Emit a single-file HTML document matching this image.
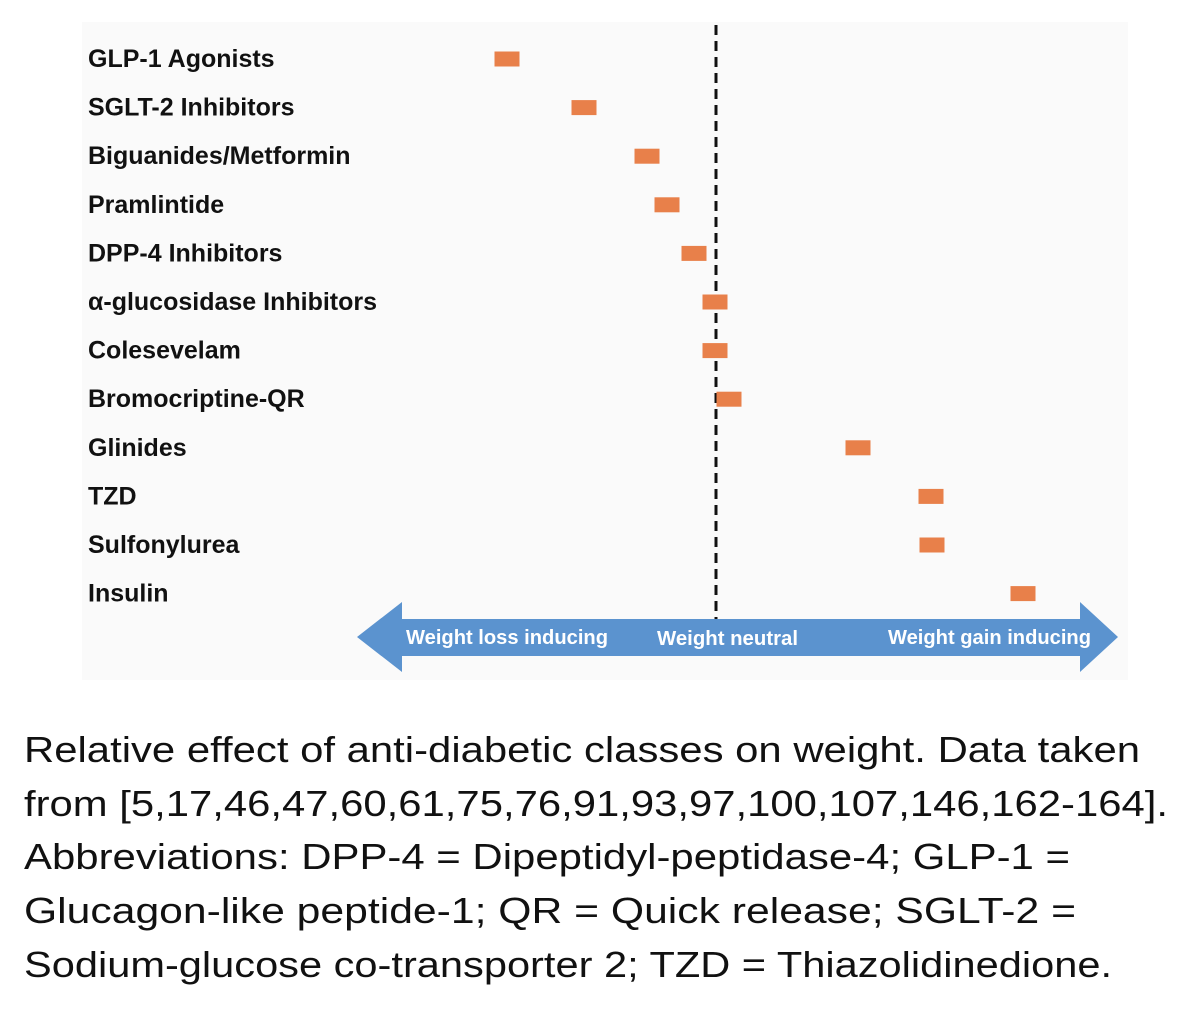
<!DOCTYPE html>
<html><head><meta charset="utf-8"><style>
html,body{margin:0;padding:0;background:#fff;width:1190px;height:1030px;overflow:hidden}
</style></head><body>
<svg id="chart" width="1190" height="700" style="position:absolute;left:0;top:0" font-family="Liberation Sans, sans-serif">
<rect x="82" y="22" width="1046" height="658" fill="#fafafa"/>
<g id="labels"></g>
<line x1="716" y1="25" x2="716" y2="620" stroke="#111" stroke-width="3" stroke-dasharray="10,6"/>
<g id="bars"></g>
<polygon points="357,637 402,602 402,619 1080,619 1080,602 1118,637 1080,672 1080,656 402,656 402,672" fill="#5b93cf"/>
<text x="406" y="644" font-size="20" font-weight="bold" fill="#fff" textLength="202" lengthAdjust="spacingAndGlyphs">Weight loss inducing</text>
<text x="657" y="645" font-size="20" font-weight="bold" fill="#fff" textLength="141" lengthAdjust="spacingAndGlyphs">Weight neutral</text>
<text x="888" y="644" font-size="20" font-weight="bold" fill="#fff" textLength="203" lengthAdjust="spacingAndGlyphs">Weight gain inducing</text>
</svg>
<svg width="1190" height="330" style="position:absolute;left:0;top:700px" font-family="Liberation Sans, sans-serif" font-size="36" fill="#111">
<text x="24" y="62" textLength="1116" lengthAdjust="spacingAndGlyphs">Relative effect of anti-diabetic classes on weight. Data taken</text>
<text x="24" y="116" textLength="1144" lengthAdjust="spacingAndGlyphs">from [5,17,46,47,60,61,75,76,91,93,97,100,107,146,162-164].</text>
<text x="24" y="169" textLength="1046" lengthAdjust="spacingAndGlyphs">Abbreviations: DPP-4 = Dipeptidyl-peptidase-4; GLP-1 =</text>
<text x="24" y="223" textLength="1052" lengthAdjust="spacingAndGlyphs">Glucagon-like peptide-1; QR = Quick release; SGLT-2 =</text>
<text x="24" y="277" textLength="1088" lengthAdjust="spacingAndGlyphs">Sodium-glucose co-transporter 2; TZD = Thiazolidinedione.</text>
</svg>
<script>
const categories=["GLP-1 Agonists","SGLT-2 Inhibitors","Biguanides/Metformin","Pramlintide","DPP-4 Inhibitors","\u03b1-glucosidase Inhibitors","Colesevelam","Bromocriptine-QR","Glinides","TZD","Sulfonylurea","Insulin"];
const effects=[-20.9,-13.2,-6.9,-4.9,-2.2,-0.1,-0.1,1.3,14.2,21.5,21.6,30.7];
const NS="http://www.w3.org/2000/svg";
function xScale(v){return 716+v*10;}
function yScale(i){return 59+i*48.6;}
const lg=document.getElementById('labels'),bg=document.getElementById('bars');
categories.forEach((c,i)=>{
  const t=document.createElementNS(NS,'text');
  
  
  t.setAttribute('x',88);t.setAttribute('y',yScale(i)+8);
  t.setAttribute('font-size','25');t.setAttribute('font-weight','bold');t.setAttribute('fill','#111');
  t.textContent=c;lg.appendChild(t);
  const r=document.createElementNS(NS,'rect');
  
  
  r.setAttribute('x',xScale(effects[i])-12.5);r.setAttribute('y',yScale(i)-7.5);
  r.setAttribute('width',25);r.setAttribute('height',15);r.setAttribute('fill','#e8804a');
  bg.appendChild(r);
});
</script>
</body></html>
